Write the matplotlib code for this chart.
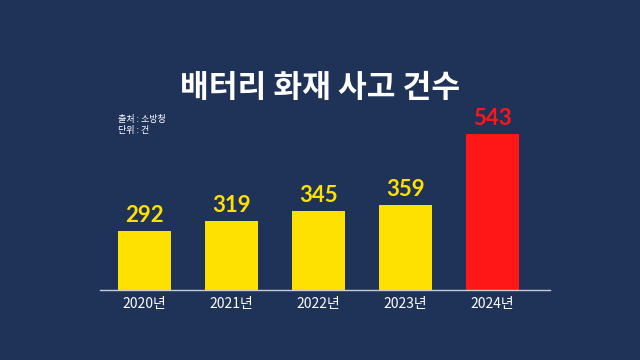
import matplotlib
matplotlib.use("Agg")
import matplotlib.pyplot as plt

# data
years = ["2020년", "2021년", "2022년", "2023년", "2024년"]
counts = [292, 319, 345, 359, 543]
bar_colors = ["#FFE100", "#FFE100", "#FFE100", "#FFE100", "#FF1616"]
label_colors = ["#FFE100", "#FFE100", "#FFE100", "#FFE100", "#FF1616"]

title = "배터리 화재 사고 건수"
source = "출처 : 소방청"
unit = "단위 : 건"

bg = "#1F3258"
kr = ["Noto Sans CJK KR", "DejaVu Sans"]

fig = plt.figure(figsize=(6.4, 3.6), dpi=100, facecolor=bg)
ax = fig.add_axes([100 / 640, 70 / 360, 450 / 640, 190 / 360])
ax.set_facecolor(bg)

x = list(range(len(years)))
ax.bar(x, counts, width=0.61, color=bar_colors, bottom=0, zorder=2)
ax.set_xlim(-0.511, 4.66)
ax.set_ylim(139.4, 631)

for xi, v, c in zip(x, counts, label_colors):
    ax.text(xi, v + 12, str(v), ha="center", va="bottom", color=c,
            fontsize=16, fontweight="bold", family=["Lato", "DejaVu Sans"])

for s in ["top", "right", "left"]:
    ax.spines[s].set_visible(False)
ax.spines["bottom"].set_color("#C8CCD4")
ax.spines["bottom"].set_linewidth(1.0)
ax.set_yticks([])
ax.set_xticks(x)
ax.set_xticklabels(years, color="white", fontsize=10, family=kr)
ax.tick_params(axis="x", length=0, pad=5)

fig.text(0.5, 1 - 88 / 360, title, ha="center", va="center", color="white",
         fontsize=22.5, fontweight="heavy", family=kr)
fig.text(118 / 640, 1 - 120 / 360, source, ha="left", va="center", color="white",
         fontsize=6.5, family=kr)
fig.text(118 / 640, 1 - 131 / 360, unit, ha="left", va="center", color="white",
         fontsize=6.5, family=kr)

fig.savefig("out.png", dpi=100, facecolor=bg)
